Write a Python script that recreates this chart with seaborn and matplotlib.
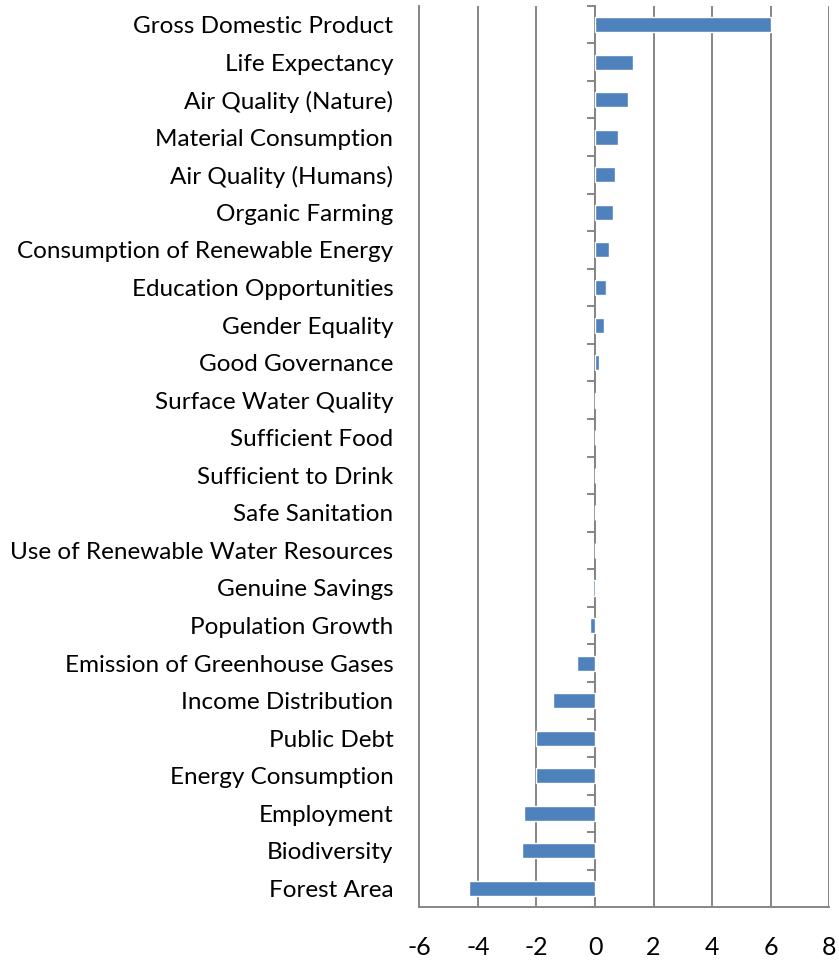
import seaborn as sns
import matplotlib.pyplot as plt
import pandas as pd

# Indicadores (de arriba a abajo) y su variación
indicators = [
    "Gross Domestic Product", "Life Expectancy", "Air Quality (Nature)",
    "Material Consumption", "Air Quality (Humans)", "Organic Farming",
    "Consumption of Renewable Energy", "Education Opportunities",
    "Gender Equality", "Good Governance", "Surface Water Quality",
    "Sufficient Food", "Sufficient to Drink", "Safe Sanitation",
    "Use of Renewable Water Resources", "Genuine Savings",
    "Population Growth", "Emission of Greenhouse Gases",
    "Income Distribution", "Public Debt", "Energy Consumption",
    "Employment", "Biodiversity", "Forest Area",
]
values = [
    6.0, 1.31, 1.14, 0.78, 0.69, 0.60, 0.49, 0.38, 0.31, 0.14, 0.03,
    0.0, 0.0, 0.0, 0.0, -0.08, -0.16, -0.61, -1.44, -2.03, -2.02,
    -2.44, -2.51, -4.31,
]
x_ticks = [-6, -4, -2, 0, 2, 4, 6, 8]

df = pd.DataFrame({"indicator": indicators, "value": values})

sns.set_style("white")
plt.rcParams["font.family"] = ["Lato", "DejaVu Sans"]
plt.rcParams["axes.unicode_minus"] = False

grid_color = "#868686"
fig = plt.figure(figsize=(8.39, 9.64), dpi=100)
ax = fig.add_axes([0.4998, 0.0588, 0.4886, 0.9353])

sns.barplot(data=df, x="value", y="indicator", orient="h", color="#4F81BD",
            width=0.4, saturation=1, ax=ax, zorder=3)

ax.set_xlim(x_ticks[0], x_ticks[-1])
ax.set_ylim(len(indicators) - 0.5, -0.5)
ax.set_xticks(x_ticks)
ax.set_xlabel("")
ax.set_ylabel("")

# Rejilla vertical y ejes estilo Excel
ax.grid(axis="x", color=grid_color, linewidth=1.4, zorder=0)
ax.set_axisbelow(True)
for side in ["top", "right"]:
    ax.spines[side].set_visible(False)
for side in ["left", "bottom"]:
    ax.spines[side].set_color(grid_color)
    ax.spines[side].set_linewidth(1.4)

ax.tick_params(axis="y", length=0, pad=18.7, labelsize=17.5, labelcolor="black")
ax.tick_params(axis="x", direction="out", length=6, width=1.4, color=grid_color,
               pad=15, labelsize=18, labelcolor="black")

# Eje vertical en x = 0 con marcas entre categorías
loc0 = (0 - x_ticks[0]) / (x_ticks[-1] - x_ticks[0])
sec = ax.secondary_yaxis(loc0)
sec.set_yticks([i - 0.5 for i in range(len(indicators) + 1)])
sec.set_yticklabels([])
sec.tick_params(axis="y", direction="out", length=6, width=1.4, color=grid_color,
                left=True, right=False)
sec.yaxis.set_ticks_position("left")
sec.spines["left"].set_color(grid_color)
sec.spines["left"].set_linewidth(1.4)

plt.savefig("out.png", dpi=100)
plt.close()
